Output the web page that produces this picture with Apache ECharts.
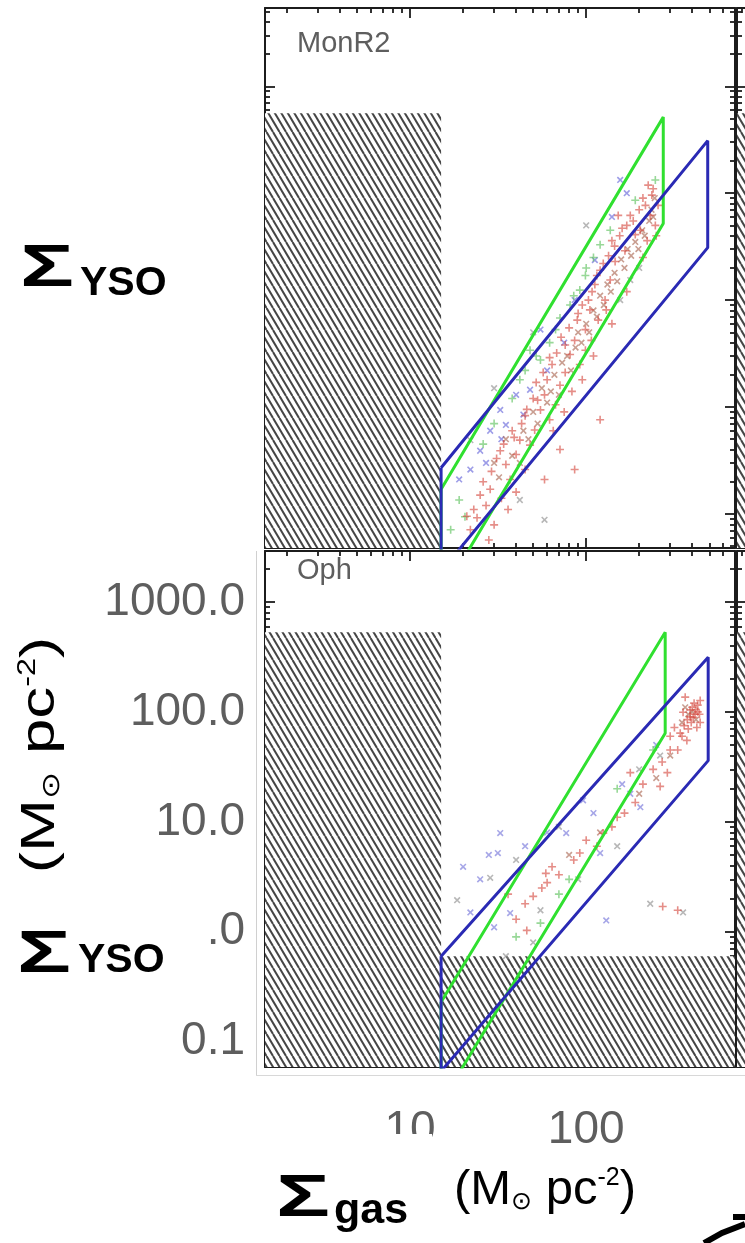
<!DOCTYPE html>
<html><head><meta charset="utf-8">
<script src="https://cdn.jsdelivr.net/npm/echarts@6/dist/echarts.min.js"></script>
<style>html,body{margin:0;padding:0;background:#fff}#c{width:745px;height:1243px}</style>
</head><body><div id="c"></div>
<script>
// ---------------- data ----------------
const xRange = [1.5, 700];
const monYRange = [0.048, 5400];
const ophYRange = [0.059, 2900];
const xMajor = [10, 100];
const xMinor = [2,3,4,5,6,7,8,9,20,30,40,50,60,70,80,90,200,300,400,500,600];
const yMajor = [0.1, 1, 10, 100, 1000];
const yMinor = [0.05,0.06,0.07,0.08,0.09,0.2,0.3,0.4,0.5,0.6,0.7,0.8,0.9,2,3,4,5,6,7,8,9,20,30,40,50,60,70,80,90,200,300,400,500,600,700,800,900,2000,3000,4000,5000];
const panelNames = ['MonR2', 'Oph'];

// hatched regions [x0, x1, y0, y1]
const monHatch = [[1.5, 15, 0.048, 560]];
const ophHatch = [[1.5, 15, 0.059, 530], [15, 700, 0.059, 0.6]];

// model boxes (closed outlines)
const monGreenBox = [[15,0.17],[274,515],[274,52],[15,0.017],[15,0.17]];
const monBlueBox  = [[15,0.27],[490,310],[490,31],[15,0.029],[15,0.27]];
const ophGreenBox = [[15,0.23],[281,530],[281,64],[15,0.028],[15,0.23]];
const ophBlueBox  = [[15,0.6],[493,313],[493,36],[15,0.054],[15,0.6]];

// YSO points
const monRed = [[225,119],[236,96],[217,77],[231,62],[247,50],[203,45],[222,36],[256,77],[152,62],[160,47],[140,36],[166,29],[146,23],[134,26],[120,19],[112,14],[128,10],[105,8.1],[117,6.5],[99,5.3],[86,4.2],[81,3.1],[92,2.5],[76,2.1],[71,1.6],[83,1.4],[99,3.4],[58,1.3],[55,0.94],[62,0.76],[51,0.61],[48,0.44],[67,1.05],[42,0.49],[40,0.36],[35,0.29],[45,0.26],[37,0.21],[28.5,0.17],[27,0.12],[24,0.092],[30,0.079],[22,0.071],[28,0.057],[71,0.40],[86,0.26],[58,0.21],[120,0.76],[178,62],[190,41],[137,15.4],[103,10],[89,6.5],[76,3.8],[64,2.5],[60,1.8],[53,1.16],[45,0.83],[38,0.6],[32.5,0.39],[107,4.2],[130,8.1],
  [210,90],[240,110],[200,70],[185,55],[170,50],[155,40],[145,32],[125,22],[115,17],[108,12],[95,9],[90,7.5],[80,5.5],[72,4.5],[68,3.2],[62,2.9],[57,2.1],[52,1.7],[50,1.2],[46,0.95],[43,0.7],[39,0.52],[34,0.45],[31,0.33],[29,0.25],[26,0.2],[25,0.15],[23,0.11],[21,0.095],[33,0.14],[36,0.11],[40,0.16],[65,0.6],[75,0.9],[95,1.8],[110,3],[140,6],[170,12],[210,25],[250,40]];
const monBrown = [[30,0.3],[32,0.22],[35,0.5],[38,0.35],[42,0.3],[44,0.6],[47,0.5],[50,0.9],[53,0.7],[56,1.5],[60,1.1],[63,1.4],[66,2],[70,1.3],[73,2.6],[78,3],[82,2.2],[87,3.6],[90,5],[94,4],[100,6],[104,5],[110,8],[115,7],[120,11],[126,9],[132,14],[138,12],[145,18],[150,15],[158,24],[165,20],[172,30],[180,26],[190,35],[198,30],[208,45],[215,40],[228,55],[235,70],[245,90],[240,60]];
const monGreenPts = [[92,12.4],[81,9],[71,6.8],[67,5.3],[55,2.75],[42,1.8],[48,3.4],[120,33],[137,45],[99,17],[19,0.135],[20.5,0.094],[17,0.071],[247,133],[190,86],[100,20],[110,25],[85,11],[62,4],[52,3],[45,2.2],[38,1.2],[30,0.7],[26,0.45]];
const monBluePts = [[32.5,0.94],[40,1.3],[48,1.45],[25,0.39],[22,0.26],[28.5,0.6],[55,5.3],[35,0.68],[19,0.21],[156,133],[112,23.7],[86,10],[27,0.3],[33,0.5],[44,0.85],[60,2.2],[75,4],[140,60],[170,100]];
const monGrayPts = [[156,10],[178,15.4],[42,0.135],[58,0.088],[22,0.49],[100,50],[200,20],[30,1.5],[50,5]];

const ophRed = [[389,104],[405,89],[425,72],[444,127],[365,136],[355,99],[444,80],[373,55],[342,64],[317,72],[331,45],[289,28],[263,21],[178,28],[150,11],[125,7.9],[100,6.8],[92,5.2],[64,3.9],[59,3.4],[56,2.5],[50,2.1],[36,2.2],[46,1.03],[272,1.7],[331,1.57],[400,110],[415,95],[395,80],[430,100],[380,70],
  [410,120],[420,105],[390,90],[375,85],[360,75],[350,60],[300,45],[270,35],[240,30],[210,22],[190,15],[165,12],[140,9],[115,6],[85,4.5],[70,3.3],[60,2.8],[45,1.8],[40,1.3],[300,60],[430,115],[440,95]];
const ophBrown = [[350,80],[380,95],[400,100],[365,110],[420,85],[300,40],[250,25],[200,18],[120,8],[80,5]];
const ophBluePts = [[203,13.6],[178,18],[96,15.7],[77,7.9],[32.5,7.9],[31.5,5.2],[20,3.9],[37,1.48],[130,1.27],[120,5.2],[25,3],[28,5],[45,6],[60,8],[110,12],[160,22],[250,50],[30,1.1],[22,1.5]];
const ophGrayPts = [[28.5,3.1],[18.5,1.94],[55,1.57],[231,1.8],[355,1.5],[263,40],[200,30],[40,4.5],[70,9],[150,6],[90,3],[50,0.8],[35,0.6]];
const ophGreenPts = [[40,0.9],[70,2.2],[150,20],[240,45],[80,3],[55,1.2]];

// ---------------- chart ----------------
const FONT = '"Liberation Sans", Arial, Helvetica, sans-serif';
const GRAY = '#5e5e5e';
const FRAME = '#1c1c1c';

function hatchCanvas() {
  const c = document.createElement('canvas');
  const w = 13, h = 22;
  c.width = w; c.height = h;
  const g = c.getContext('2d');
  g.fillStyle = '#ffffff'; g.fillRect(0, 0, w, h);
  g.strokeStyle = '#454545'; g.lineWidth = 2;
  for (const ox of [-13, -6.5, 0, 6.5, 13]) {
    g.beginPath(); g.moveTo(ox, 0); g.lineTo(ox + w, h); g.stroke();
  }
  return c;
}
const HATCH = { image: hatchCanvas(), repeat: 'repeat' };

const grids = [
  { left: 265, top: 8, width: 470, height: 540 },
  { left: 265, top: 551, width: 470, height: 516 },
  { left: 737, top: 8, width: 400, height: 540 },
  { left: 737, top: 551, width: 400, height: 516 }
];
const gridY = [monYRange, ophYRange, monYRange, ophYRange];

const xAxes = [], yAxes = [];
const mainX = [], mainY = [];
const lineSt = { color: FRAME, width: 2 };
function tick(vals, len) {
  return { show: true, inside: true, length: len, customValues: vals, lineStyle: { color: FRAME, width: 1.8 } };
}
grids.forEach((g, gi) => {
  const xb = { gridIndex: gi, type: 'log', logBase: 10, min: xRange[0], max: xRange[1], splitLine: { show: false }, axisLabel: { show: false } };
  const yb = { gridIndex: gi, type: 'log', logBase: 10, min: gridY[gi][0], max: gridY[gi][1], splitLine: { show: false }, axisLabel: { show: false } };
  mainX.push(xAxes.length);
  xAxes.push(Object.assign({}, xb, { position: 'bottom', axisLine: { show: true, lineStyle: lineSt }, axisTick: tick(xMajor, 10) }));
  xAxes.push(Object.assign({}, xb, { position: 'top', axisLine: { show: true, lineStyle: lineSt }, axisTick: tick(xMajor, 10) }));
  xAxes.push(Object.assign({}, xb, { position: 'bottom', axisLine: { show: false }, axisTick: tick(xMinor, 5) }));
  xAxes.push(Object.assign({}, xb, { position: 'top', axisLine: { show: false }, axisTick: tick(xMinor, 5) }));
  mainY.push(yAxes.length);
  yAxes.push(Object.assign({}, yb, { position: 'left', axisLine: { show: true, lineStyle: lineSt }, axisTick: tick(yMajor, 10) }));
  yAxes.push(Object.assign({}, yb, { position: 'right', axisLine: { show: true, lineStyle: lineSt }, axisTick: tick(yMajor, 10) }));
  yAxes.push(Object.assign({}, yb, { position: 'left', axisLine: { show: false }, axisTick: tick(yMinor, 5) }));
  yAxes.push(Object.assign({}, yb, { position: 'right', axisLine: { show: false }, axisTick: tick(yMinor, 5) }));
});

// Oph axes carry the tick labels
Object.assign(xAxes[mainX[1]], {
  axisLabel: { show: true, customValues: xMajor, fontSize: 46, color: GRAY, fontFamily: FONT, margin: 40 }
});
Object.assign(yAxes[mainY[1]], {
  axisLabel: { show: true, customValues: yMajor, fontSize: 46, color: GRAY, fontFamily: FONT, margin: 20,
    formatter: v => Number(v).toFixed(1) }
});

const series = [];
function hatchSeries(gi, regions) {
  series.push({
    type: 'custom', xAxisIndex: mainX[gi], yAxisIndex: mainY[gi], data: regions, silent: true, z: 1,
    encode: { x: [0, 1], y: [2, 3] },
    renderItem: (params, api) => {
      const p0 = api.coord([api.value(0), api.value(2)]);
      const p1 = api.coord([api.value(1), api.value(3)]);
      return { type: 'rect', shape: { x: Math.min(p0[0], p1[0]), y: Math.min(p0[1], p1[1]),
        width: Math.abs(p1[0] - p0[0]), height: Math.abs(p1[1] - p0[1]) }, style: { fill: HATCH } };
    }
  });
}
function boxSeries(gi, pts, color) {
  series.push({ type: 'line', xAxisIndex: mainX[gi], yAxisIndex: mainY[gi], data: pts, symbol: 'none',
    silent: true, z: 4, lineStyle: { color: color, width: 3 } });
}
const PLUS = 'path://M4,0H6V4H10V6H6V10H4V6H0V4H4Z';
function pts(gi, data, color, rot) {
  series.push({ type: 'scatter', xAxisIndex: mainX[gi], yAxisIndex: mainY[gi], data: data, symbol: PLUS,
    symbolSize: 8, symbolRotate: rot, silent: true, z: 3, itemStyle: { color: color, opacity: 0.62 } });
}
hatchSeries(0, monHatch);
hatchSeries(1, ophHatch);
hatchSeries(2, monHatch);
hatchSeries(3, ophHatch);
pts(0, monGrayPts, '#8a8a8a', 45);
pts(0, monBluePts, '#6060d8', 45);
pts(0, monGreenPts, '#58c058', 0);
pts(0, monBrown, '#a8624e', 45);
pts(0, monRed, '#d5483f', 0);
pts(1, ophGrayPts, '#8a8a8a', 45);
pts(1, ophBluePts, '#7070d8', 45);
pts(1, ophGreenPts, '#58c058', 0);
pts(1, ophBrown, '#a8624e', 45);
pts(1, ophRed, '#d5483f', 0);
boxSeries(0, monGreenBox, '#30e030');
boxSeries(0, monBlueBox, '#2a2ab4');
boxSeries(1, ophGreenBox, '#30e030');
boxSeries(1, ophBlueBox, '#2a2ab4');

const unitRich = {
  t: { fontSize: 49, color: GRAY, fontFamily: FONT },
  sub: { fontSize: 25, color: GRAY, fontFamily: FONT, verticalAlign: 'bottom' },
  sup: { fontSize: 25, color: GRAY, fontFamily: FONT, verticalAlign: 'top' }
};
const unitText = '{t|(M}{sub|⊙}{t| pc}{sup|-2}{t|)}';
const sig = (x, y) => ({ type: 'text', x: x, y: y, scaleX: 1.5, z: 100,
  style: { text: 'Σ', fontSize: 60, fontWeight: 'bold', fill: '#000', fontFamily: FONT } });
const subT = (x, y, t, fs) => ({ type: 'text', x: x, y: y, z: 100,
  style: { text: t, fontSize: fs, fontWeight: 'bold', fill: '#000', fontFamily: FONT } });

const option = {
  animation: false,
  backgroundColor: '#ffffff',
  grid: grids,
  xAxis: xAxes,
  yAxis: yAxes,
  series: series,
  graphic: { elements: [
    // faint edges of the pasted lower panel
    { type: 'line', z: 0, shape: { x1: 256.5, y1: 551, x2: 256.5, y2: 1075 }, style: { stroke: '#d0d0d0', lineWidth: 1 } },
    { type: 'line', z: 0, shape: { x1: 256, y1: 1075.5, x2: 745, y2: 1075.5 }, style: { stroke: '#d8d8d8', lineWidth: 1 } },
    { type: 'text', x: 297, y: 29, z: 50, style: { text: panelNames[0], fontSize: 29, fill: GRAY, fontFamily: FONT } },
    { type: 'text', x: 297, y: 556, z: 50, style: { text: panelNames[1], fontSize: 29, fill: GRAY, fontFamily: FONT } },
    // axis titles
    { type: 'text', x: 40, y: 755, rotation: Math.PI / 2, scaleX: 1.3, z: 60,
      style: { text: unitText, rich: unitRich, align: 'center', verticalAlign: 'middle' } },
    { type: 'text', x: 545, y: 1190, z: 60,
      style: { text: unitText, rich: unitRich, align: 'center', verticalAlign: 'middle' } },
    // pasted symbol labels
    sig(20, 239), subT(80, 263, 'YSO', 41),
    { type: 'rect', x: 0, y: 888, z: 99, shape: { width: 205, height: 117 }, style: { fill: '#ffffff' } },
    sig(17, 925), subT(78, 940, 'YSO', 41),
    { type: 'rect', x: 262, y: 1134, z: 99, shape: { width: 170, height: 109 }, style: { fill: '#ffffff' } },
    sig(276, 1169), subT(334, 1190, 'gas', 43),
    // cut-off black stroke at the bottom-right corner
    { type: 'polyline', z: 100, shape: { points: [[704, 1243], [722, 1233], [745, 1224]] }, style: { stroke: '#000', lineWidth: 6, fill: null } },
    { type: 'rect', x: 733, y: 1214, z: 100, shape: { width: 12, height: 6 }, style: { fill: '#000' } }
  ] }
};
const chart = echarts.init(document.getElementById('c'));
chart.setOption(option);
</script></body></html>
